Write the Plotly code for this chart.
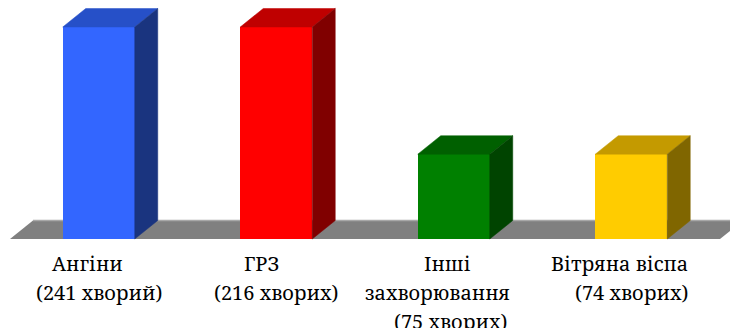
import plotly.graph_objects as go

# ---- data ----
categories = ["Ангіни", "ГРЗ", "Інші захворювання", "Вітряна віспа"]
bar_values = [5, 5, 2, 2]  # relative bar heights as drawn
label_lines = [
    ["Ангіни", "(241 хворий)"],
    ["ГРЗ", "(216 хворих)"],
    ["Інші", "захворювання", "(75 хворих)"],
    ["Вітряна віспа", "(74 хворих)"],
]

# ---- styles ----
front_colors = ["#3366FF", "#FF0000", "#008000", "#FFCC00"]
top_colors = ["#2650C8", "#BF0000", "#006000", "#C49A00"]
side_colors = ["#1A347F", "#800000", "#004400", "#806600"]
line_xshift = [[-11, 0], [-15, 0], [-6, -16, -3], [-12, 0]]
line_ypx = [263, 292, 321]

W, H = 730, 328
x_range = [-0.5563, 3.5563]
y_range = [-2.099, 5.637]
px_x = W / (x_range[1] - x_range[0])
px_y = H / (y_range[1] - y_range[0])
bar_w = 72 / px_x
dx = 23 / px_x
dy = 18.5 / px_y

xs = list(range(len(categories)))

fig = go.Figure()

# front faces
fig.add_trace(go.Bar(
    x=xs, y=bar_values, width=bar_w,
    marker=dict(color=front_colors, line=dict(width=0)),
    hoverinfo="skip", showlegend=False,
))

# top and side faces
for i, (x, v) in enumerate(zip(xs, bar_values)):
    l, r = x - bar_w / 2, x + bar_w / 2
    fig.add_trace(go.Scatter(
        x=[l, r, r + dx, l + dx, l], y=[v, v, v + dy, v + dy, v],
        fill="toself", fillcolor=top_colors[i], mode="lines",
        line=dict(color=top_colors[i], width=0.5),
        hoverinfo="skip", showlegend=False,
    ))
    fig.add_trace(go.Scatter(
        x=[r, r + dx, r + dx, r, r], y=[0, dy, v + dy, v, 0],
        fill="toself", fillcolor=side_colors[i], mode="lines",
        line=dict(color=side_colors[i], width=0.5),
        hoverinfo="skip", showlegend=False,
    ))

# floor
x0, x1 = -0.5, len(categories) - 0.5
fig.add_shape(
    type="path", layer="below",
    path=f"M {x0},0 L {x1},0 L {x1 + dx},{dy} L {x0 + dx},{dy} Z",
    fillcolor="#808080", line=dict(width=0),
)
fig.add_shape(
    type="line", layer="below",
    x0=x0 + dx, y0=dy, x1=x1 + dx + 0.1, y1=dy,
    line=dict(color="#A8A8A8", width=1.5),
)

# category labels
for i, lines in enumerate(label_lines):
    for j, t in enumerate(lines):
        fig.add_annotation(
            x=xs[i], xref="x", y=1 - line_ypx[j] / H, yref="paper",
            text=t, showarrow=False, xanchor="center", yanchor="middle",
            xshift=line_xshift[i][j],
            font=dict(family="Noto Serif", size=20, color="black"),
        )

fig.update_layout(
    width=W, height=H,
    margin=dict(l=0, r=0, t=0, b=0),
    paper_bgcolor="white", plot_bgcolor="white",
    xaxis=dict(range=x_range, visible=False, fixedrange=True),
    yaxis=dict(range=y_range, visible=False, fixedrange=True),
    bargap=0,
)

fig.write_html("out.html")
